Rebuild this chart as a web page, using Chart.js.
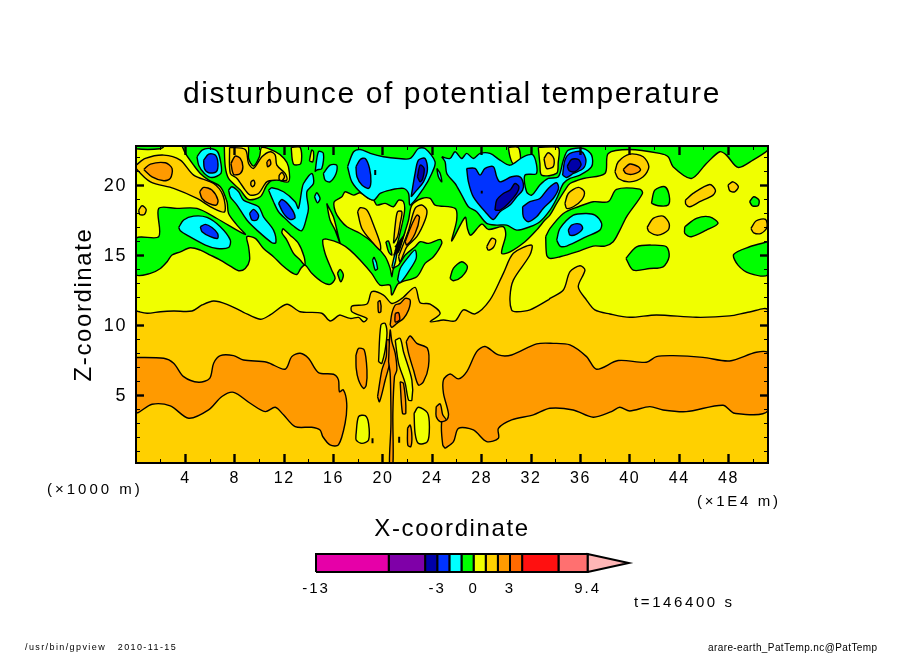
<!DOCTYPE html>
<html>
<head>
<meta charset="utf-8">
<title>disturbunce of potential temperature</title>
<script src="https://cdn.jsdelivr.net/npm/chart.js@4"></script>
<style>
  html, body { margin: 0; background: #fff; }
  #wrap { position: relative; width: 904px; height: 654px; overflow: hidden; }
  #field { position: absolute; left: 0; top: 0; }
  #bar { position: absolute; left: 290px; top: 545px; }
</style>
</head>
<body>
<div id="wrap">
  <canvas id="field" width="904" height="654"></canvas>
  <canvas id="bar" width="350" height="60"></canvas>
</div>
<script>
// axis values: x in 1E4 m, z in 1000 m
const xRange = [0, 51.2];
const zRange = [0.19, 22.84];
const xMajor = [4, 8, 12, 16, 20, 24, 28, 32, 36, 40, 44, 48];
const xMinor = [2, 6, 10, 14, 18, 22, 26, 30, 34, 38, 42, 46, 50];
const zMajor = [5, 10, 15, 20];
const zMinor = [1, 2, 3, 4, 6, 7, 8, 9, 11, 12, 13, 14, 16, 17, 18, 19, 21, 22];

// colour scale
const levels = [-13, -7, -4, -3, -2, -1, 0, 1, 2, 3, 4, 7, 9.4];
const levelFills = ['#e600a8', '#7f00a8', '#0000a8', '#0033ff', '#00ffff', '#00ff00', '#f0ff00', '#ffd000', '#ff9a00', '#ff6a00', '#ff1010', '#ff7070'];
const overflowEnd = 12.79;
const overflowFill = '#ffb6b6';
const levelLabels = [-13, -3, 0, 3, 9.4];
const DARK = levelFills[2], BLUE = levelFills[3], CYAN = levelFills[4], GREEN = levelFills[5];
const YELLOW = levelFills[6], GOLD = levelFills[7], ORANGE = levelFills[8], DEEP = levelFills[9];

// contour regions, flat x,z pairs
const goldLow = [0,11.05, .9,10.89, 1.98,11, 3.05,11.05, 4.54,11.05, 5.35,11.48, 6.29,11.77, 7.37,11.53, 8.71,10.96, 10.06,10.46, 10.87,10.77, 12.22,11.53, 13.3,11, 15.05,10.89, 15.72,10.34, 16.4,10.72, 16.55,10.76, 17.36,10.52, 18.03,10.59, 18.44,10.28, 18.71,10.52, 17.49,11, 17.49,11.4, 18.71,11.55, 19.11,12.43, 20.05,12.19, 20.73,11.59, 21.54,11.95, 22.61,12.74, 23.02,11.64, 23.83,11.55, 24.64,10.88, 23.83,10.28, 24.91,10.41, 25.85,10.34, 26.53,11.13, 27.47,10.84, 28.68,11.84, 29.76,13.74, 30.57,15.17, 32.05,15.76, 31.91,15.05, 30.57,13.26, 30.3,12.07, 30.43,11.12, 30.84,11, 31.92,11.13, 33.4,11.84, 33.54,11.95, 34.62,12.55, 35.16,13.86, 35.97,14.28, 36.37,13.97, 35.83,12.78, 36.5,11.83, 37.17,11.13, 38.39,10.84, 40,10.6, 42.16,10.77, 45.39,10.6, 48.09,10.7, 49.7,10.98, 51.2,11.08, 51.2,0, 0,0];
const orangeBandW = [0,7.74, 2.25,7.67, 3.05,7.32, 3.86,6.36, 5.08,5.96, 5.97,6.24, 6.29,7.32, 6.83,7.86, 7.91,7.86, 8.71,7.55, 10.6,7.39, 12.08,6.89, 12.62,7.79, 13.3,8.03, 13.97,7.67, 14.78,6.65, 16,6.53, 16.4,6.13, 16.48,5.29, 16.8,5.41, 17.07,4.46, 16.94,3.03, 16.4,1.48, 15.72,1.48, 15.13,2.08, 14.91,2.55, 14.24,2.74, 12.89,2.79, 11.95,3.63, 11.28,4.17, 10.47,3.86, 9.25,4.46, 7.91,5.24, 6.96,4.94, 5.88,3.98, 4.27,3.39, 2.78,4.27, 1.3,4.39, 0,3.82];
const orangeBandE = [25.04,1.24, 25.72,1.72, 26.12,2.67, 27.33,2.55, 28.41,1.72, 29.36,1.96, 29.36,2.67, 30.43,3.27, 32.19,3.63, 33.53,4.1, 35.42,3.98, 37.04,3.46, 38.52,3.86, 39.19,4.17, 40,3.91, 41.62,4.22, 42.7,3.98, 44.58,3.86, 47.55,4.32, 48.49,3.74, 51.2,3.94, 51.2,8.03, 50.25,8.1, 48.09,7.48, 45.93,7.74, 43.51,7.86, 42.16,7.79, 41.35,7.39, 39.06,7.51, 37.31,6.89, 36.5,7.79, 35.15,8.63, 33.8,8.74, 32.46,8.7, 30.43,7.91, 29.36,7.91, 28.28,8.51, 27.6,8.15, 26.8,6.72, 26.12,6.2, 25.45,6.55, 24.91,6.13, 24.91,5.17, 25.31,3.74, 25.18,3.27, 24.77,3.15, 24.85,1.48];
const orangeLoop = [24.32,4.22, 24.64,4.41, 24.85,3.63, 25.12,3.27, 24.64,3.15, 24.32,3.51];
const greenMain = [3.73,22.84, 4,22.31, 4.67,21.47, 5.21,20.88, 5.89,20.4, 6.83,19.93, 7.37,18.86, 7.5,18.02, 8.18,17.19, 8.85,16.52, 6.56,17.66, 4.94,18.38, 3.32,18.38, 1.84,18.38, 1.84,16.36, 0,16.24, 0,13.66, 1.17,13.74, 1.98,14.09, 2.52,14.57, 2.92,15.05, 3.59,15.28, 4.4,15.57, 5.21,15.4, 6.02,15.05, 6.83,14.69, 7.64,14.26, 8.31,13.93, 8.85,14.09, 9.2,14.69, 9.12,15.64, 8.98,16.36, 9.66,16.24, 10.33,15.52, 11.14,14.93, 11.82,14.33, 12.49,13.86, 13.03,13.66, 13.35,14.09, 13.7,14.33, 14.24,13.74, 15.05,13.14, 15.72,12.95, 16.13,13.38, 15.86,13.97, 15.32,15.16, 15.13,16.12, 15.45,16.19, 16.53,15.88, 17.34,15.4, 18.15,14.69, 19.09,13.74, 19.77,12.9, 20.57,12.9, 20.73,12.19, 21.27,13.02, 22.75,13.5, 23.42,14.45, 24.1,14.93, 24.77,15.88, 24.64,16.17, 23.69,15.88, 23.02,16, 22.61,15.64, 21.81,15.05, 21.27,14.33, 20.86,14.09, 20.73,13.5, 20.59,14.09, 20.19,14.93, 19.25,15.88, 18.17,16.59, 17.09,17.07, 16.55,17.55, 16.15,18.14, 16.06,18.86, 16.68,19.21, 16.95,19.57, 17.63,19.33, 18.17,19.5, 18.84,19.09, 19.25,18.97, 19.51,18.62, 20.19,18.74, 20.86,18.5, 21.27,18.97, 21.67,18.86, 21.75,18.14, 21.35,16.47, 21,15.16, 21.27,15.28, 21.67,16.36, 22.08,17.55, 22.35,18.62, 23.15,19.09, 23.83,19.09, 24.23,18.62, 25.85,18.38, 25.98,17.55, 25.58,16.05, 26.66,17.74, 26.85,16.95, 27.12,16.47, 28.01,17.26, 28.54,16.88, 29.76,17.07, 29.95,16.47, 29.62,15.17, 30.3,15.28, 31.51,16, 32.45,16.83, 33.13,17.55, 33.53,17.9, 34.08,18.74, 34.75,19.69, 35.16,20.16, 36.24,20.52, 37.99,20.88, 38.26,22.31, 40.01,22.59, 42.43,22.31, 43.11,22.07, 43.51,21.36, 44.99,20.52, 46.21,21.59, 47.29,22.43, 47.83,22.19, 48.77,21.31, 49.98,21.83, 51.2,22.55, 51.2,22.84];
const greenLobe = [33.19,16.36, 33.54,16.95, 34.62,18.02, 35.83,18.5, 37.04,18.86, 38.26,18.86, 38.93,19.74, 40.82,19.76, 41.03,19.45, 39.74,17.78, 39.2,16.83, 38.66,16, 37.99,15.69, 37.04,15.69, 35.7,15.28, 34.35,14.93, 33.54,14.81, 33.27,15.05];
const greenIslands = [
  [41.76,18.74, 42.03,19.69, 42.84,19.93, 43.19,19.33, 43.11,18.62, 42.3,18.57],
  [39.69,14.81, 40.55,15.64, 41.9,15.76, 42.97,15.64, 43.19,14.93, 42.7,14.21, 41.63,14.09, 40.28,13.97],
  [44.46,17.07, 45.4,17.67, 46.48,17.78, 47.15,17.31, 46.21,16.83, 44.99,16.36, 44.46,16.59],
  [49.71,18.86, 50.04,19.21, 50.47,18.97, 50.39,18.57, 49.93,18.57],
  [51.2,16, 49.71,15.64, 48.42,15.09, 48.77,14.33, 49.71,13.74, 51.2,13.66],
  [25.44,13.38, 25.71,14.09, 26.39,14.57, 26.85,14.21, 26.39,13.5, 25.71,13.21],
  [16.32,13.74, 16.53,14.02, 16.8,13.62, 16.59,13.14],
  [20.24,16, 20.46,16.05, 20.73,15.05, 20.46,15.28],
  [0,22.84, 2.25,22.84, 1.98,22.64, 0,22.64],
];
const yellowIslands = [
  [7.15,22.84, 9.04,22.84, 9.12,21.95, 9.52,21.4, 10,22.07, 10.2,22.74, 11.28,22.43, 12,21.95, 12.35,21.36, 12.35,20.28, 11.14,20.45, 10.6,20.05, 10.07,19.21, 9.12,19.02, 8.45,19.69, 7.5,20.52, 7.23,21.36],
  [12.57,22.74, 13.3,22.74, 13.35,21.59, 12.76,21.55],
  [14.05,21.78, 14.24,22.55, 14.38,22.43, 14.32,21.71],
  [11.9,16.95, 12.49,16.47, 13.16,15.88, 13.62,14.93, 13.68,14.33, 13.3,14.69, 12.76,15.17, 12.22,16.12, 11.82,16.64],
  [15.45,18.74, 15.99,17.78, 16.4,16.36, 16.53,15.88, 16.13,16.83, 15.72,17.55],
  [30.16,22.74, 30.97,22.74, 31.11,21.71, 30.57,21.55, 30.3,22.07],
  [32.59,22.74, 34.2,22.74, 34.2,21.59, 34.07,20.88, 32.86,20.76, 32.72,21.59],
];
const goldIslands = [
  [0,21.47, .76,21.95, 2.25,22.19, 3.59,21.83, 4.67,20.76, 6.29,20.16, 7.04,19.33, 7.18,18.14, 6.29,18.38, 4.94,19.09, 3.05,19.81, 1.17,20.28, 0,21.24],
  [.22,18.26, .49,18.57, .82,18.31, .68,17.95, .3,17.95],
  [7.58,22.74, 8.85,22.59, 9.12,21.59, 9.52,21.24, 10.2,22.07, 10.87,22.43, 11.28,22.19, 11.41,21.47, 12.08,20.88, 12.22,20.4, 11.41,20.4, 10.6,20.28, 9.93,19.45, 9.25,19.33, 8.85,19.69, 8.18,20.52, 7.64,20.88],
  [11.6,20.76, 11.82,20.95, 12.03,20.64, 11.82,20.36, 11.6,20.45],
  [9.31,20.28, 9.52,20.4, 9.63,20.17, 9.47,19.93, 9.31,20.05],
  [33.05,21.95, 33.4,22.36, 33.85,21.95, 33.8,21.36, 33.26,21.24],
  [17.95,18.14, 18.17,18.43, 18.71,18.26, 19.25,17.19, 19.78,15.88, 19.78,15.4, 19.11,16, 18.3,16.95],
  [20.86,15.88, 21,17.19, 21.19,18.14, 21.54,18.14, 21.4,17.31, 21.19,16.36],
  [21.27,14.93, 22.08,16.83, 22.61,18.38, 23.15,18.62, 23.56,18.26, 23.42,17.55, 22.75,16.36, 21.94,15.64, 21.4,14.57],
  [28.41,15.64, 28.81,16.24, 29.14,16.12, 28.95,15.59, 28.54,15.4],
  [34.75,18.74, 35.02,19.45, 35.83,19.88, 36.32,19.57, 36.1,18.97, 35.43,18.5, 34.89,18.38],
  [38.8,21, 39.07,21.71, 40.01,22.26, 41.09,22.07, 41.55,21.36, 41.09,20.64, 40.01,20.28, 39.07,20.52],
  [41.41,17.02, 41.9,17.67, 42.7,17.83, 43.19,17.31, 43.11,16.83, 42.3,16.47, 41.57,16.71],
  [44.51,18.97, 45.13,19.45, 46.48,20.09, 46.94,19.69, 46.75,19.33, 45.67,18.86, 44.86,18.5, 44.54,18.69],
  [47.96,20.05, 48.37,20.28, 48.8,19.93, 48.5,19.57, 48.1,19.64],
  [49.82,16.95, 50.25,17.5, 51,17.6, 51.11,17.02, 50.65,16.6, 50.04,16.64],
];
const orangeIslands = [
  [.63,21.16, 1.17,21.55, 2.38,21.64, 2.92,21.24, 2.78,20.52, 2.25,20.36, 1.3,20.64],
  [5.16,19.57, 5.48,19.88, 6.15,19.69, 6.64,18.97, 6.5,18.62, 5.89,18.74, 5.35,19.09],
  [7.69,21.59, 8.04,22.12, 8.45,21.95, 8.66,21.36, 8.45,20.88, 7.91,20.81],
  [10.6,21.71, 10.82,21.88, 10.92,21.55, 10.66,21.36],
  [21.81,16, 22.21,16.95, 22.75,17.9, 22.97,17.74, 22.61,16.59, 21.94,15.76],
  [39.47,21.16, 40.01,21.55, 40.68,21.36, 40.87,21.12, 40.28,20.83, 39.69,20.88],
];
const cyanPatches = [
  [4.94,22.07, 5.35,22.55, 6.02,22.66, 6.61,22.43, 6.88,21.59, 6.88,20.88, 6.15,20.59, 5.54,20.88, 5.08,21.47],
  [3.46,17.02, 3.86,17.55, 4.67,17.83, 5.75,17.74, 6.83,17.07, 7.64,16.12, 7.5,15.59, 6.56,15.52, 5.62,15.76, 4.13,16.47, 3.59,16.79],
  [7.5,19.69, 7.77,19.93, 8.31,19.57, 8.71,18.97, 9.93,18.5, 10.33,17.78, 11.14,16.83, 11.33,15.93, 11.01,15.93, 9.79,16.83, 8.98,17.55, 8.18,18.62, 7.64,19.21],
  [10.74,19.69, 11.01,19.86, 11.95,19.57, 12.89,18.86, 13.16,18.38, 13.43,19.69, 13.57,20.16, 14.24,20.88, 14.38,20.16, 13.84,19.57, 13.97,18.38, 13.84,17.78, 13.43,16.79, 12.76,17.12, 12.22,17.55, 11.55,18.14, 11.14,18.86],
  [14.51,21, 14.78,22.43, 15.18,22.31, 15.05,21.24, 14.64,21.12],
  [14.46,19.21, 14.64,19.5, 14.91,19.09, 14.7,18.78],
  [15.18,20.88, 15.72,21.47, 16.26,21.47, 16.21,20.88, 15.72,20.28, 15.32,20.4],
  [17.14,21.36, 17.63,22.43, 18.17,22.59, 18.98,22.31, 20.05,22.07, 21.27,21.95, 22.21,21.95, 22.88,22.66, 23.42,22.66, 24.23,21.71, 23.96,20.88, 23.29,19.81, 22.21,18.62, 22.08,19.45, 21.67,19.81, 20.59,19.69, 19.78,19.45, 19.25,18.97, 18.3,19.45, 17.49,20.28],
  [24.77,22.07, 25.44,21.95, 25.85,22.43, 26.39,21.95, 26.79,22.31, 27.33,21.95, 27.87,22.31, 28.68,22.31, 29.49,21.83, 30.3,21.47, 31.38,22.07, 32.18,22.19, 32.45,20.88, 31.51,20.76, 31.64,19.57, 32.05,19.33, 32.72,20.05, 33.4,20.52, 34.21,20.64, 34.62,21.83, 35.02,22.55, 36.24,22.66, 36.91,22.19, 36.91,21.36, 35.97,20.76, 35.16,20.52, 34.62,20.16, 34.08,19.09, 33.54,18.26, 32.72,17.43, 31.91,17.07, 30.84,16.83, 30.03,17.19, 29.22,17.19, 28.41,17.31, 27.6,18.14, 26.93,18.5, 26.39,19.33, 25.85,20.16, 25.18,20.88, 25.04,21.71],
  [24.37,21.24, 24.64,20.88, 24.77,20.28, 24.5,20.64],
  [34.08,16.12, 34.35,16.95, 35.43,17.9, 36.5,18.02, 37.18,17.9, 37.72,17.31, 37.58,16.83, 36.5,16.36, 34.89,15.69, 34.35,15.69],
  [21.19,13.26, 21.4,14.09, 22.08,14.93, 22.61,15.4, 22.7,14.81, 22.08,13.86, 21.4,13.07],
  [19.16,14.69, 19.3,14.88, 19.57,14.09, 19.38,13.97],
  [20.73,14.21, 21,15.17, 21.13,15.17, 20.86,14.09],
];
const bluePatches = [
  [5.48,21.83, 5.89,22.26, 6.42,22.19, 6.64,21.59, 6.5,21, 5.89,20.93, 5.54,21.24],
  [5.21,17.07, 5.62,17.24, 6.15,17.02, 6.61,16.59, 6.61,16.24, 6.02,16.36, 5.35,16.71],
  [9.2,18.02, 9.52,18.31, 9.93,17.9, 9.79,17.55, 9.39,17.55],
  [11.55,18.74, 11.82,19.02, 12.49,18.5, 12.89,17.74, 12.49,17.59, 11.95,18.02],
  [17.82,21.36, 18.17,21.88, 18.57,21.95, 18.92,21.24, 19.03,20.28, 18.84,19.81, 18.3,20.05, 17.9,20.64],
  [22.29,19.21, 22.61,20.88, 22.88,21.83, 23.42,21.95, 23.61,21.12, 23.29,20.28, 22.75,19.69],
  [26.79,21.24, 27.47,21.24, 27.87,20.76, 28.28,21.24, 28.95,21.36, 29.22,20.64, 29.49,20.28, 30.43,20.64, 31.11,20.64, 31.38,20.16, 31.32,19.69, 30.84,19.21, 30.3,18.62, 29.49,18.14, 28.95,17.59, 28.41,18.02, 27.33,19.21, 26.93,20.28],
  [31.32,18.5, 31.91,18.86, 32.72,19.09, 33.4,19.81, 34.07,20.21, 34.23,19.81, 33.8,19.09, 32.99,18.38, 32.45,17.78, 31.78,17.43, 31.38,17.78],
  [34.56,20.76, 34.75,21.83, 35.16,22.31, 36.1,22.43, 36.45,21.83, 36.24,21.24, 35.43,20.88, 34.89,20.59],
  [35.02,16.83, 35.29,17.19, 35.97,17.26, 36.18,16.95, 35.7,16.55, 35.16,16.47],
];
const darkPatches = [
  [22.8,20.64, 23.02,21.47, 23.34,21.24, 23.23,20.52, 23.02,20.28],
  [29.08,18.26, 29.22,18.97, 29.76,19.45, 30.3,19.69, 30.7,20.16, 31.02,19.93, 30.84,19.45, 30.16,18.74, 29.49,18.26],
  [34.94,21.4, 35.29,21.88, 35.83,21.88, 36.05,21.47, 35.56,21, 35.1,21.07],
];
const lowerYellow = [
  [17.82,2.19, 18.03,3.5, 18.57,3.57, 18.84,3.02, 18.84,1.83, 18.3,1.59, 17.84,1.83],
  [19.65,7.43, 19.84,10.05, 20.19,10.16, 20.32,9.21, 19.92,7.31],
  [21,8.97, 21.4,9.09, 21.67,8.14, 22.35,6.12, 22.35,4.69, 22.08,4.69, 21.81,5.88, 21.27,7.31],
  [22.53,3.74, 22.88,4.17, 23.61,3.78, 23.77,2.78, 23.61,1.71, 22.88,1.59, 22.61,2.31],
];
const lowerOrange = [
  [17.82,7.9, 18.03,8.38, 18.49,8.26, 18.71,6.83, 18.65,5.76, 18.44,5.52, 18.03,6.12, 17.84,6.95],
  [19.57,4.93, 19.92,6.83, 20.27,7.78, 20.32,8.97, 20.51,8.97, 20.59,7.55, 20.19,6.12, 19.73,4.57],
  [20.46,7.43, 20.59,9.69, 20.73,8.86, 21,8.02, 21.13,6.83, 20.94,6.36, 20.81,3.74, 20.81,0, 20.54,0, 20.65,2.78, 20.65,4.21, 20.59,6.59],
  [21.89,8.86, 22.21,9.26, 22.75,8.74, 23.61,8.38, 23.69,7.07, 23.29,6, 22.88,5.76, 22.48,6.83, 22.08,8.02],
  [21.4,6, 21.67,5.88, 21.86,3.74, 21.59,3.74],
  [22,2.67, 22.21,2.9, 22.35,2.07, 22.26,1.36, 22.02,1.47],
  [20.59,10.05, 20.73,10.88, 21,11.47, 21.4,11.59, 21.81,11.95, 22.21,11.83, 22.08,11.12, 21.67,10.52, 21.13,10.17, 20.73,9.88],
  [19.6,11.71, 19.78,11.78, 19.84,11, 19.65,10.95],
];
const deepPatch = [21,10.88, 21.27,10.93, 21.35,10.4, 21,10.28];
// tight contour bundles too small to fill
const contourKnot = [20.9,15, 21.3,15.9, 21,15.3, 21.5,16.1, 21.15,15.2, 21.6,16.3, 21,15.6];
const contourSpecks = [[19.16,1.95, 19.16,1.6], [21.32,2.07, 21.32,1.64], [19.38,21.12, 19.38,20.76], [28.01,19.65, 28.01,19.45]];

function toPoints(flat, closed) {
  const pts = [];
  for (let i = 0; i < flat.length; i += 2) pts.push({ x: flat[i], y: flat[i + 1] });
  if (closed) pts.push(pts[0]);
  return pts;
}

const fieldSets = [];
function addRegion(flat, fill, outline) {
  fieldSets.push({
    data: toPoints(flat, true),
    showLine: true,
    fill: 'shape',
    backgroundColor: fill,
    borderColor: outline === false ? fill : '#000',
    borderWidth: outline === false ? 0 : 1.4,
    tension: outline === false ? 0 : 0.3,
    pointRadius: 0,
    order: -fieldSets.length,
  });
}
function addLine(flat, width) {
  fieldSets.push({
    data: toPoints(flat, false),
    showLine: true,
    fill: false,
    borderColor: '#000',
    borderWidth: width,
    pointRadius: 0,
    order: -fieldSets.length,
  });
}

addRegion([xRange[0], zRange[0], xRange[1], zRange[0], xRange[1], zRange[1], xRange[0], zRange[1]], YELLOW, false);
addRegion(goldLow, GOLD);
addRegion(orangeBandW, ORANGE);
addRegion(orangeBandE, ORANGE);
addRegion(orangeLoop, ORANGE);
addRegion(greenMain, GREEN);
addRegion(greenLobe, GREEN);
greenIslands.forEach(p => addRegion(p, GREEN));
yellowIslands.forEach(p => addRegion(p, YELLOW));
goldIslands.forEach(p => addRegion(p, GOLD));
orangeIslands.forEach(p => addRegion(p, ORANGE));
cyanPatches.forEach(p => addRegion(p, CYAN));
bluePatches.forEach(p => addRegion(p, BLUE));
darkPatches.forEach(p => addRegion(p, DARK));
lowerYellow.forEach(p => addRegion(p, YELLOW));
lowerOrange.forEach(p => addRegion(p, ORANGE));
addRegion(deepPatch, DEEP);
addLine(contourKnot, 2);
contourSpecks.forEach(p => addLine(p, 2));

const FONT = '"Liberation Sans"';

// every tick length needs its own scale, chart.js has one length per axis
function tickAxis(position, values, len, width, extra) {
  const horizontal = position === 'bottom' || position === 'top';
  return Object.assign({
    type: 'linear',
    position,
    min: horizontal ? xRange[0] : zRange[0],
    max: horizontal ? xRange[1] : zRange[1],
    afterBuildTicks: axis => { axis.ticks = values.map(value => ({ value })); },
    afterFit: axis => { if (horizontal) axis.height = 0; else axis.width = 0; },
    ticks: { display: false, autoSkip: false, maxRotation: 0 },
    border: { display: false },
    grid: { drawOnChartArea: false, tickLength: -len, tickWidth: width, tickColor: '#000', z: 2 },
    weight: 0,
  }, extra);
}

const frameBorder = { display: true, color: '#000', width: 2, z: 3 };

const scales = {
  x: tickAxis('bottom', xMajor, 9, 2.4, {
    weight: 1,
    afterFit: axis => { axis.height = 191; },
    border: frameBorder,
    ticks: { display: true, autoSkip: false, maxRotation: 0, padding: 15, color: '#000', font: { family: FONT, size: 16 }, callback: v => String(v) },
    title: { display: true, text: 'X-coordinate', color: '#000', font: { family: FONT, size: 24 }, padding: { top: 0, bottom: 110 } },
  }),
  y: tickAxis('left', zMajor, 8, 2.4, {
    weight: 1,
    afterFit: axis => { axis.width = 136; },
    border: frameBorder,
    ticks: { display: true, autoSkip: false, maxRotation: 0, padding: 17, color: '#000', font: { family: FONT, size: 18 }, callback: v => String(v) },
    title: { display: true, text: 'Z-coordinate', color: '#000', font: { family: FONT, size: 24 }, padding: { top: 70, bottom: 0 } },
  }),
  xMinorAxis: tickAxis('bottom', xMinor, 4, 1),
  yMinorAxis: tickAxis('left', zMinor, 4, 1),
  xTop: tickAxis('top', xMajor, 9, 2.4, { border: frameBorder }),
  xTopMinor: tickAxis('top', xMinor, 4, 1),
  yRight: tickAxis('right', zMajor, 8, 2.4, {
    weight: 1,
    afterFit: axis => { axis.width = 136; },
    border: frameBorder,
  }),
  yRightMinor: tickAxis('right', zMinor, 4, 1),
};

// notes placed around the frame as in the gpview output
const notes = [
  { text: '(\u00d71000 m)', x: 47, y: 490, size: 15, spacing: 3 },
  { text: '(\u00d71E4 m)', x: 697, y: 502, size: 15, spacing: 2.7 },
  { text: 't=146400 s', x: 634, y: 603, size: 15, spacing: 2.6 },
  { text: '/usr/bin/gpview   2010-11-15', x: 25, y: 648, size: 9, spacing: 1.4 },
  { text: 'arare-earth_PatTemp.nc@PatTemp', x: 708, y: 648, size: 10, spacing: 0.4 },
];
const textPlugin = {
  id: 'spacedText',
  beforeDraw(chart) {
    chart.ctx.letterSpacing = chart.canvas.id === 'bar' ? '2px' : '1.6px';
  },
  afterDraw(chart) {
    if (chart.canvas.id === 'bar') return;
    const ctx = chart.ctx;
    ctx.save();
    ctx.fillStyle = '#000';
    ctx.textBaseline = 'middle';
    ctx.textAlign = 'left';
    notes.forEach(n => {
      ctx.font = n.size + 'px ' + FONT;
      ctx.letterSpacing = n.spacing + 'px';
      ctx.fillText(n.text, n.x, n.y);
    });
    ctx.restore();
  },
};

new Chart(document.getElementById('field'), {
  type: 'scatter',
  data: { datasets: fieldSets },
  plugins: [textPlugin],
  options: {
    responsive: false,
    animation: false,
    devicePixelRatio: 1,
    plugins: {
      legend: { display: false },
      tooltip: { enabled: false },
      title: {
        display: true,
        text: 'disturbunce of potential temperature',
        color: '#000',
        font: { family: FONT, size: 30, weight: 'normal', lineHeight: 1.2 },
        padding: { top: 77, bottom: 33 },
      },
    },
    scales,
  },
});

// colour bar, one rectangle per level interval and a triangle for the overflow
const barSets = levelFills.map((fill, i) => ({
  data: [
    { x: levels[i], y: 0 }, { x: levels[i + 1], y: 0 },
    { x: levels[i + 1], y: 1 }, { x: levels[i], y: 1 }, { x: levels[i], y: 0 },
  ],
  showLine: true,
  fill: 'shape',
  backgroundColor: fill,
  borderColor: '#000',
  borderWidth: 2,
  pointRadius: 0,
  clip: false,
}));
barSets.push({
  data: [{ x: levels[levels.length - 1], y: 0 }, { x: overflowEnd, y: 0.5 }, { x: levels[levels.length - 1], y: 1 }, { x: levels[levels.length - 1], y: 0 }],
  showLine: true,
  fill: 'shape',
  backgroundColor: overflowFill,
  borderColor: '#000',
  borderWidth: 2,
  pointRadius: 0,
  clip: false,
});

new Chart(document.getElementById('bar'), {
  type: 'scatter',
  data: { datasets: barSets },
  plugins: [textPlugin],
  options: {
    responsive: false,
    animation: false,
    devicePixelRatio: 1,
    layout: { padding: { left: 26, right: 11.3, top: 9, bottom: 0 } },
    plugins: { legend: { display: false }, tooltip: { enabled: false } },
    scales: {
      x: {
        type: 'linear',
        min: levels[0],
        max: overflowEnd,
        afterBuildTicks: axis => { axis.ticks = levelLabels.map(value => ({ value })); },
        afterFit: axis => { axis.height = 33; },
        border: { display: false },
        grid: { display: false },
        ticks: { autoSkip: false, maxRotation: 0, padding: 0, color: '#000', font: { family: FONT, size: 15 }, callback: v => String(v) },
      },
      y: { type: 'linear', min: 0, max: 1, display: false },
    },
  },
});
</script>
</body>
</html>
